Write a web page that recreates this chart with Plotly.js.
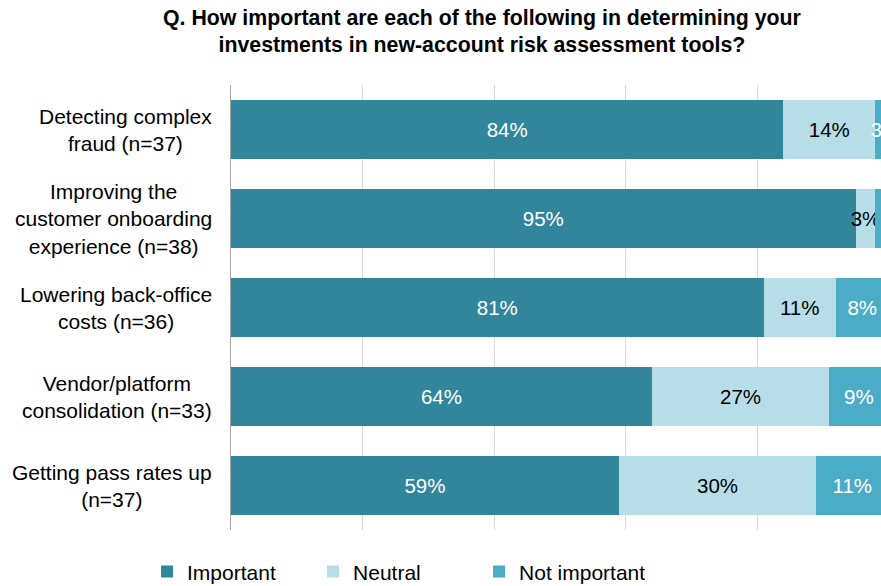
<!DOCTYPE html>
<html>
<head>
<meta charset="utf-8">
<script src="https://cdn.plot.ly/plotly-3.0.1.min.js"></script>
<style>html,body{margin:0;padding:0;background:#fff;}#chart{width:881px;height:586px;}</style>
</head>
<body>
<div id="chart"></div>
<script>
var categories = [
  "Detecting complex<br>fraud (n=37)",
  "Improving the<br>customer onboarding<br>experience (n=38)",
  "Lowering back-office<br>costs (n=36)",
  "Vendor/platform<br>consolidation (n=33)",
  "Getting pass rates up<br>(n=37)"
];
var important = [84, 95, 81, 64, 59];
var neutral = [14, 3, 11, 27, 30];
var notImportant = [3, 3, 8, 9, 11];
var seriesNames = ["Important", "Neutral", "Not important"];
var titleText = "Q. How important are each of the following in determining your<br>investments in new-account risk assessment tools?";

var FONT = "Liberation Sans, Arial, sans-serif";
var colors = ["#31869b", "#b7dee8", "#4bacc6"];
var textColors = ["#ffffff", "#000000", "#ffffff"];
var values = [important, neutral, notImportant];
// label visibility: the tiny last segment of row 2 carries no visible label in the reference
var labelTemplates = [
  important.map(function () { return "%{x}%"; }),
  neutral.map(function () { return "%{x}%"; }),
  notImportant.map(function (v, j) { return j === 1 ? "" : "%{x}%"; })
];

var traces = values.map(function (vals, i) {
  return {
    type: "bar",
    orientation: "h",
    name: seriesNames[i],
    y: categories,
    x: vals,
    marker: { color: colors[i], line: { width: 0 } },
    texttemplate: labelTemplates[i],
    textposition: "inside",
    insidetextanchor: "middle",
    constraintext: "none",
    textangle: 0,
    textfont: { family: FONT, size: 20.5, color: textColors[i] },
    hoverinfo: "skip"
  };
});

var annotations = categories.map(function (c) {
  return {
    xref: "paper", yref: "y",
    x: -0.026, y: c,
    xanchor: "right", yanchor: "middle",
    align: "center",
    text: c,
    showarrow: false,
    font: { family: FONT, size: 21, color: "#000000" }
  };
});

var layout = {
  width: 881, height: 586,
  margin: { l: 231, r: 0, t: 85, b: 56, pad: 0, autoexpand: false },
  paper_bgcolor: "#ffffff",
  plot_bgcolor: "#ffffff",
  barmode: "stack",
  bargap: 0.34,
  font: { family: FONT, size: 21, color: "#000000" },
  title: {
    text: titleText,
    font: { family: FONT, size: 21.3, color: "#000000", weight: "bold" },
    xref: "container", x: 0.547, xanchor: "center",
    yref: "container", y: 0.958, yanchor: "top"
  },
  xaxis: {
    range: [0, 98.86],
    showticklabels: false,
    ticks: "",
    dtick: 20,
    showgrid: true,
    gridcolor: "#d9d9d9",
    gridwidth: 1,
    zeroline: false,
    showline: false,
    fixedrange: true
  },
  yaxis: {
    autorange: "reversed",
    showticklabels: false,
    ticks: "",
    showgrid: false,
    zeroline: false,
    showline: true,
    linecolor: "#a6a6a6",
    linewidth: 1,
    fixedrange: true
  },
  showlegend: true,
  legend: {
    orientation: "h",
    xref: "container",
    x: 0.1669, xanchor: "left",
    yref: "container",
    y: 0.024, yanchor: "middle",
    entrywidth: 121, entrywidthmode: "pixels",
    traceorder: "normal",
    font: { family: FONT, size: 21, color: "#000000" },
    bgcolor: "rgba(0,0,0,0)"
  },
  annotations: annotations
};

Plotly.newPlot("chart", traces, layout, { displayModeBar: false, staticPlot: true });
</script>
</body>
</html>
